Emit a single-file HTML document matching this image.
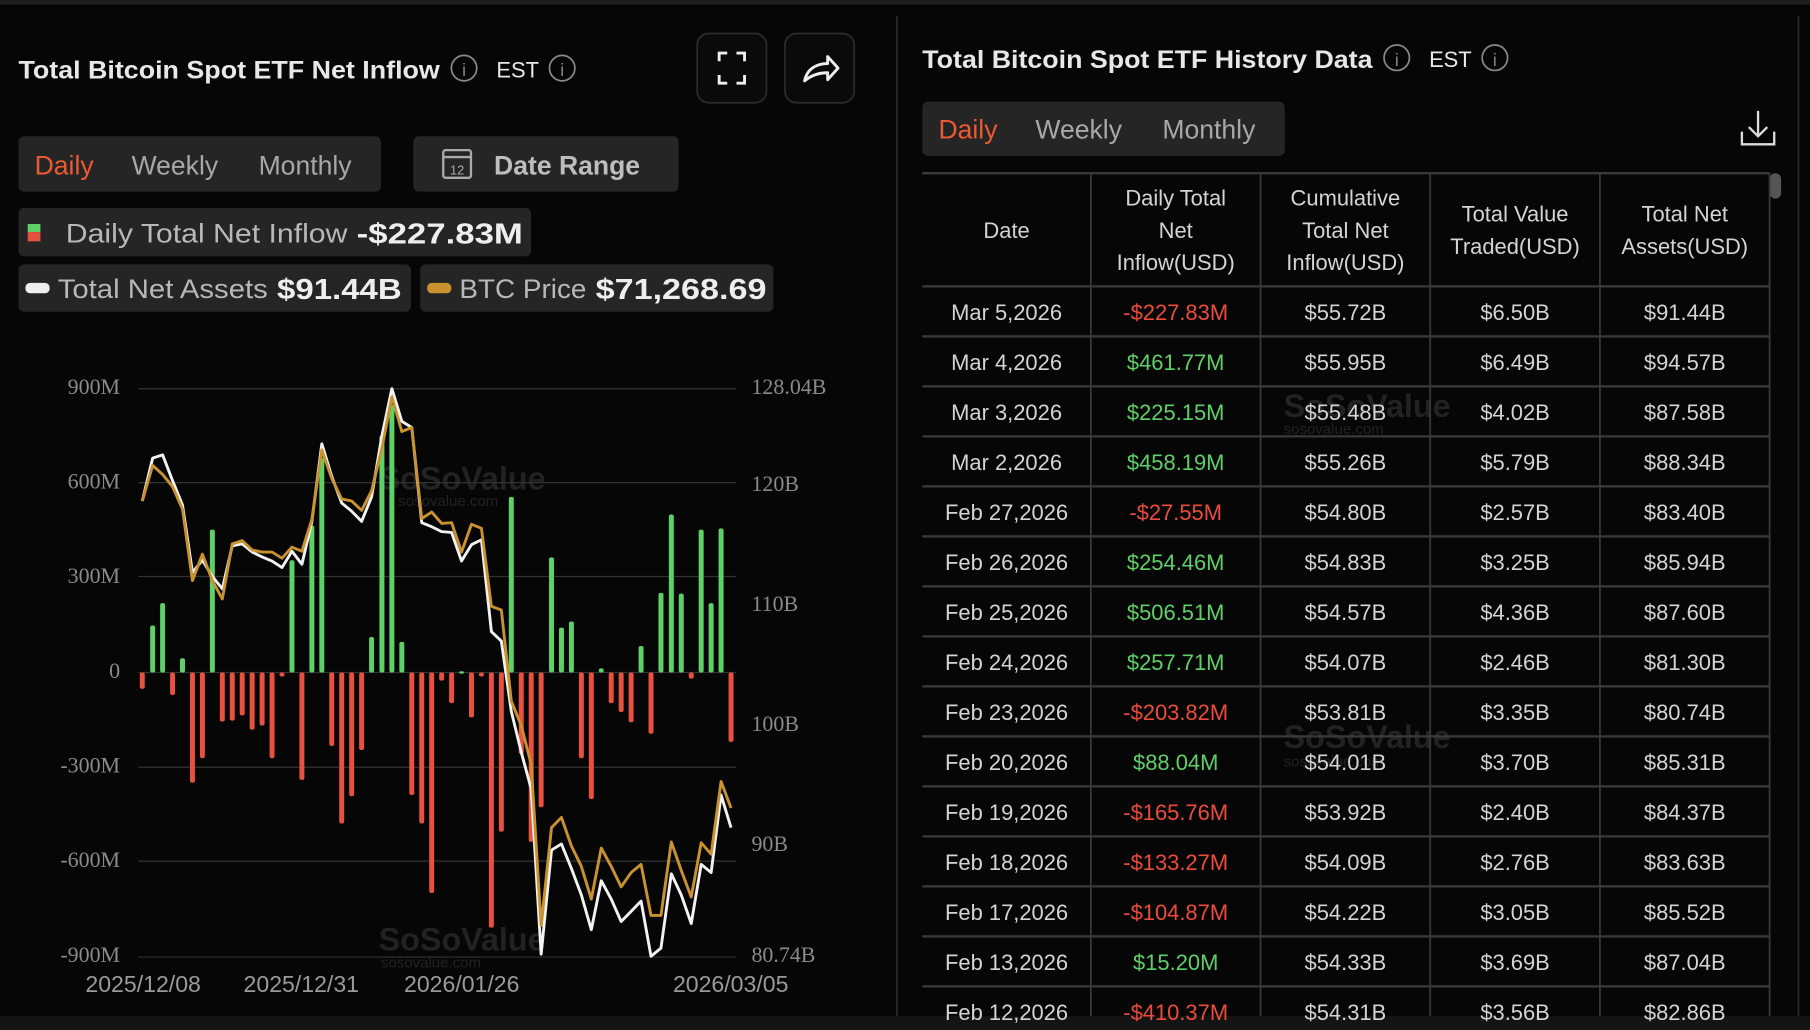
<!DOCTYPE html>
<html><head><meta charset="utf-8"><style>
html,body{margin:0;padding:0;background:#060606;width:1810px;height:1030px;overflow:hidden}
svg{display:block}
text{font-family:"Liberation Sans",sans-serif}
</style></head><body>
<svg width="1810" height="1030" viewBox="0 0 1568 892" preserveAspectRatio="none" xmlns="http://www.w3.org/2000/svg">
<rect width="1568" height="892" fill="#060606"/>
<rect x="0" y="0" width="1568" height="4" fill="#1e1e1e"/>
<rect x="0" y="880" width="1568" height="12" fill="#141414"/>
<line x1="777" y1="14" x2="777" y2="880" stroke="#2a2a2a" stroke-width="1.5"/>
<line x1="1558" y1="14" x2="1558" y2="880" stroke="#2a2a2a" stroke-width="1.5"/>

<!-- Left header -->
<text x="16" y="68" font-size="22" font-weight="bold" fill="#e8e8e8" textLength="365" lengthAdjust="spacingAndGlyphs">Total Bitcoin Spot ETF Net Inflow</text>
<circle cx="402" cy="59" r="11" fill="none" stroke="#888" stroke-width="1.5"/><text x="402" y="66" font-size="15" fill="#888" text-anchor="middle">i</text>
<text x="430" y="67" font-size="19" fill="#e8e8e8">EST</text>
<circle cx="487" cy="59" r="11" fill="none" stroke="#888" stroke-width="1.5"/><text x="487" y="66" font-size="15" fill="#888" text-anchor="middle">i</text>
<rect x="604" y="29" width="60" height="60" rx="10" fill="#0a0a0a" stroke="#2c2c2c" stroke-width="1.5"/>
<path d="M623 53v-7h7M645 53v-7h-7M623 65v7h7M645 65v7h-7" stroke="#eee" stroke-width="2.5" fill="none"/>
<rect x="680" y="29" width="60" height="60" rx="10" fill="#0a0a0a" stroke="#2c2c2c" stroke-width="1.5"/>
<path d="M697 70c2-10 10-15 20-15v-6l9 10-9 10v-6c-8 0-14 2-20 7z" stroke="#eee" stroke-width="2.5" fill="none" stroke-linejoin="round"/>

<rect x="16" y="118" width="314" height="48" rx="5" fill="#252525"/>
<text x="30" y="151" font-size="23" fill="#ec5a32">Daily</text>
<text x="114" y="151" font-size="23" fill="#a8a8a8">Weekly</text>
<text x="224" y="151" font-size="23" fill="#a8a8a8">Monthly</text>
<rect x="358" y="118" width="230" height="48" rx="5" fill="#252525"/>
<rect x="384" y="130" width="24" height="24" rx="2" fill="none" stroke="#aaa" stroke-width="2"/>
<line x1="384" y1="136" x2="408" y2="136" stroke="#aaa" stroke-width="2"/>
<text x="396" y="151" font-size="11" fill="#aaa" text-anchor="middle">12</text>
<text x="428" y="151" font-size="23" font-weight="bold" fill="#bdbdbd">Date Range</text>

<rect x="16" y="180" width="444" height="42" rx="5" fill="#252525"/>
<rect x="24" y="194" width="11" height="7" fill="#5fd068"/><rect x="24" y="201" width="11" height="8" fill="#e8503f"/>
<text x="57" y="210" font-size="23" fill="#b8b8b8" textLength="244" lengthAdjust="spacingAndGlyphs">Daily Total Net Inflow</text>
<text x="309" y="211" font-size="25" font-weight="bold" fill="#eee" textLength="144" lengthAdjust="spacingAndGlyphs">-$227.83M</text>
<rect x="16" y="229" width="340" height="41" rx="5" fill="#252525"/>
<rect x="22" y="245" width="21" height="9" rx="4" fill="#eee"/>
<text x="50" y="258" font-size="23" fill="#b8b8b8" textLength="182" lengthAdjust="spacingAndGlyphs">Total Net Assets</text>
<text x="240" y="259" font-size="25" font-weight="bold" fill="#eee" textLength="108" lengthAdjust="spacingAndGlyphs">$91.44B</text>
<rect x="364" y="229" width="306" height="41" rx="5" fill="#252525"/>
<rect x="370" y="245" width="21" height="9" rx="4" fill="#c9922e"/>
<text x="398" y="258" font-size="23" fill="#b8b8b8" textLength="110" lengthAdjust="spacingAndGlyphs">BTC Price</text>
<text x="516" y="259" font-size="25" font-weight="bold" fill="#eee" textLength="148" lengthAdjust="spacingAndGlyphs">$71,268.69</text>

<!-- Axes labels -->
<g font-size="19" fill="#8a8a8a">
<text x="104" y="341" text-anchor="end" style="font-family:'Liberation Serif',serif">900M</text>
<text x="104" y="423" text-anchor="end" style="font-family:'Liberation Serif',serif">600M</text>
<text x="104" y="505" text-anchor="end" style="font-family:'Liberation Serif',serif">300M</text>
<text x="104" y="587" text-anchor="end" style="font-family:'Liberation Serif',serif">0</text>
<text x="104" y="669" text-anchor="end" style="font-family:'Liberation Serif',serif">-300M</text>
<text x="104" y="751" text-anchor="end" style="font-family:'Liberation Serif',serif">-600M</text>
<text x="104" y="833" text-anchor="end" style="font-family:'Liberation Serif',serif">-900M</text>
<text x="651" y="341" style="font-family:'Liberation Serif',serif">128.04B</text>
<text x="651" y="425" style="font-family:'Liberation Serif',serif">120B</text>
<text x="651" y="529" style="font-family:'Liberation Serif',serif">110B</text>
<text x="651" y="633" style="font-family:'Liberation Serif',serif">100B</text>
<text x="651" y="737" style="font-family:'Liberation Serif',serif">90B</text>
<text x="651" y="833" style="font-family:'Liberation Serif',serif">80.74B</text>
</g>
<g font-size="20" fill="#9a9a9a">
<text x="124" y="859" text-anchor="middle">2025/12/08</text>
<text x="261" y="859" text-anchor="middle">2025/12/31</text>
<text x="400" y="859" text-anchor="middle">2026/01/26</text>
<text x="633" y="859" text-anchor="middle">2026/03/05</text>
</g>

<!-- watermark -->
<g fill="#222" font-weight="bold">
<text x="328" y="424" font-size="28">SoSoValue</text><text x="345" y="438" font-size="13" font-weight="normal">sosovalue.com</text>
<text x="328" y="823" font-size="28">SoSoValue</text><text x="330" y="838" font-size="13" font-weight="normal">sosovalue.com</text>
<text x="1112" y="361" font-size="28">SoSoValue</text><text x="1112" y="376" font-size="13" font-weight="normal">sosovalue.com</text>
<text x="1112" y="648" font-size="28">SoSoValue</text><text x="1112" y="664" font-size="13" font-weight="normal">sosovalue.com</text>
</g>

<!-- chart plotting in zoom coords -->
<g transform="scale(0.86633) translate(100,360) scale(0.41459,0.40816)">
<g stroke="#333" stroke-width="3">
<line x1="92" y1="70" x2="1535" y2="70"/><line x1="92" y1="300" x2="1535" y2="300"/><line x1="92" y1="530" x2="1535" y2="530"/>
<line x1="92" y1="765" x2="1535" y2="765"/><line x1="92" y1="997" x2="1535" y2="997"/><line x1="92" y1="1227" x2="1535" y2="1227"/><line x1="92" y1="1462" x2="1535" y2="1462"/>
</g>
<g id="bars"></g>
<polyline id="wl" fill="none" stroke="#f2f2f2" stroke-width="7" stroke-linejoin="round"/>
<polyline id="gl" fill="none" stroke="#c9922e" stroke-width="7" stroke-linejoin="round"/>
</g>

<!-- Right panel -->
<text x="799" y="59" font-size="22" font-weight="bold" fill="#e8e8e8" textLength="390" lengthAdjust="spacingAndGlyphs">Total Bitcoin Spot ETF History Data</text>
<circle cx="1210" cy="50" r="11" fill="none" stroke="#888" stroke-width="1.5"/><text x="1210" y="57" font-size="15" fill="#888" text-anchor="middle">i</text>
<text x="1238" y="58" font-size="19" fill="#e8e8e8">EST</text>
<circle cx="1295" cy="50" r="11" fill="none" stroke="#888" stroke-width="1.5"/><text x="1295" y="57" font-size="15" fill="#888" text-anchor="middle">i</text>
<rect x="799" y="88" width="314" height="47" rx="5" fill="#252525"/>
<text x="813" y="120" font-size="23" fill="#ec5a32">Daily</text>
<text x="897" y="120" font-size="23" fill="#a8a8a8">Weekly</text>
<text x="1007" y="120" font-size="23" fill="#a8a8a8">Monthly</text>
<path d="M1523 96v22M1515 110l8 8 8-8M1509 114v11h28v-11" stroke="#ddd" stroke-width="2" fill="none"/>
<rect x="1533" y="150" width="10" height="22" rx="5" fill="#555"/>

<g id="table"></g>
</svg>
<script>
const B=[[102,805],[127,650],[151,595],[175,820],[199,730],[223,1035],[247,975],[271,415],[295,885],[319,883],[343,870],[367,905],[391,895],[415,975],[439,775],[463,490],[487,1028],[511,405],[535,240],[559,945],[583,1135],[607,1068],[631,955],[655,678],[680,185],[704,110],[728,690],[752,1065],[776,1135],[800,1305],[824,785],[848,840],[872,762],[896,875],[920,775],[944,1390],[968,1155],[992,335],[1016,965],[1040,1180],[1064,1095],[1089,483],[1113,655],[1137,640],[1161,975],[1185,1075],[1209,755],[1233,840],[1257,862],[1281,887],[1305,700],[1329,915],[1353,570],[1378,378],[1402,572],[1426,780],[1450,415],[1474,595],[1498,412],[1522,935]];
const G=[345,258,280,310,365,540,475,540,585,450,442,465,470,470,485,458,468,390,220,290,340,345,368,320,215,90,175,165,388,372,400,398,470,402,412,603,612,835,895,990,1385,1145,1120,1190,1240,1320,1195,1240,1290,1255,1235,1360,1360,1180,1250,1315,1182,1210,1032,1097];
const W=[345,240,232,295,355,520,490,530,560,455,450,470,482,492,508,468,500,395,205,285,350,370,395,335,185,70,150,165,398,408,420,422,492,452,440,665,688,860,960,1050,1455,1200,1185,1245,1310,1395,1275,1320,1375,1350,1325,1460,1440,1258,1310,1380,1235,1255,1065,1145];
let bh="";
B.forEach(([x,y])=>{const z=765;const t=Math.min(y,z),h=Math.max(Math.abs(y-z),6);bh+=`<rect x="${x-6}" y="${t}" width="12" height="${h}" rx="5" fill="${y<z?'#5fd068':'#e8503f'}"/>`});
document.getElementById('bars').innerHTML=bh;
document.getElementById('gl').setAttribute('points',G.map((v,i)=>B[i][0]+','+v).join(' '));
document.getElementById('wl').setAttribute('points',W.map((v,i)=>B[i][0]+','+v).join(' '));
const R=[["Mar 5,2026","-$227.83M","$55.72B","$6.50B","$91.44B"],["Mar 4,2026","$461.77M","$55.95B","$6.49B","$94.57B"],["Mar 3,2026","$225.15M","$55.48B","$4.02B","$87.58B"],["Mar 2,2026","$458.19M","$55.26B","$5.79B","$88.34B"],["Feb 27,2026","-$27.55M","$54.80B","$2.57B","$83.40B"],["Feb 26,2026","$254.46M","$54.83B","$3.25B","$85.94B"],["Feb 25,2026","$506.51M","$54.57B","$4.36B","$87.60B"],["Feb 24,2026","$257.71M","$54.07B","$2.46B","$81.30B"],["Feb 23,2026","-$203.82M","$53.81B","$3.35B","$80.74B"],["Feb 20,2026","$88.04M","$54.01B","$3.70B","$85.31B"],["Feb 19,2026","-$165.76M","$53.92B","$2.40B","$84.37B"],["Feb 18,2026","-$133.27M","$54.09B","$2.76B","$83.63B"],["Feb 17,2026","-$104.87M","$54.22B","$3.05B","$85.52B"],["Feb 13,2026","$15.20M","$54.33B","$3.69B","$87.04B"],["Feb 12,2026","-$410.37M","$54.31B","$3.56B","$82.86B"]];
const cx=[799,945,1092,1239,1386,1533];let t="";
t+=`<line x1="799" y1="150" x2="1533" y2="150" stroke="#3a3a3a" stroke-width="2"/>`;
cx.forEach((x,i)=>{if(i>0)t+=`<line x1="${x}" y1="150" x2="${x}" y2="880" stroke="#3a3a3a" stroke-width="1.5"/>`});
const H=[["Date"],["Daily Total","Net","Inflow(USD)"],["Cumulative","Total Net","Inflow(USD)"],["Total Value","Traded(USD)"],["Total Net","Assets(USD)"]];
H.forEach((l,i)=>{const m=(cx[i]+cx[i+1])/2;const y0=206-(l.length-1)*14;l.forEach((s,j)=>{t+=`<text x="${m}" y="${y0+j*28}" font-size="19" fill="#d4d4d4" text-anchor="middle">${s}</text>`})});
for(let k=0;k<16;k++){const y=248+43.3*k;t+=`<line x1="799" y1="${y}" x2="1533" y2="${y}" stroke="#3a3a3a" stroke-width="2"/>`;}
R.forEach((r,k)=>{const y=277+43.3*k;r.forEach((s,i)=>{const m=(cx[i]+cx[i+1])/2;let c="#d4d4d4";if(i==1)c=s[0]=='-'?'#ec4c3c':'#5fd068';t+=`<text x="${m}" y="${y}" font-size="19" fill="${c}" text-anchor="middle">${s}</text>`})});
document.getElementById('table').innerHTML=t;
</script>
</body></html>
